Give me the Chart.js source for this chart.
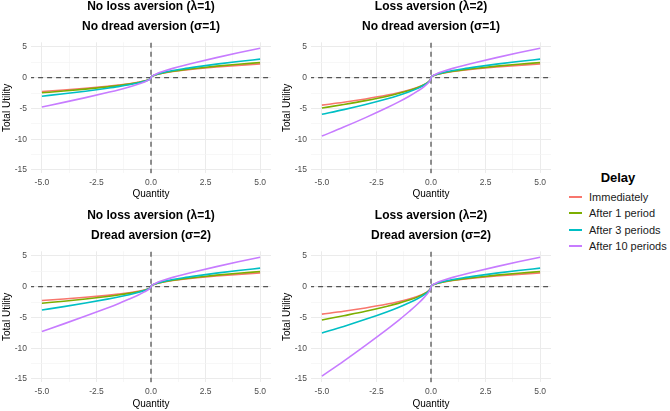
<!DOCTYPE html>
<html><head><meta charset="utf-8">
<script src="https://cdn.jsdelivr.net/npm/chart.js@4/dist/chart.umd.min.js"></script>
<style>
html,body{margin:0;padding:0;background:#fff;overflow:hidden;width:670px;height:411px;position:relative;font-family:"Liberation Sans",Arial,sans-serif;}
canvas{position:absolute;}
.lg{position:absolute;white-space:nowrap;color:#1a1a1a;}
.key{position:absolute;height:2px;}
</style></head><body>
<canvas id="c1" width="280" height="208" style="left:0;top:-3px"></canvas>
<canvas id="c2" width="280" height="208" style="left:280px;top:-3px"></canvas>
<canvas id="c3" width="280" height="209" style="left:0;top:206px"></canvas>
<canvas id="c4" width="280" height="209" style="left:280px;top:206px"></canvas>
<div id="legend"></div>
<script>
// ---- data ----
const quantity = [-5,-4,-3,-2,-1.5,-1,-0.6,-0.3,-0.1,-0.02,0,0.02,0.1,0.3,0.6,1,1.5,2,3,4,5];
const seriesNames = ["Immediately","After 1 period","After 3 periods","After 10 periods"];
const seriesColors = ["#F8766D","#7CAE00","#00BFC4","#C77CFF"];

// gains (quantity 0.02 .. 5), same in every panel
const gainImm = [0.14,0.32,0.55,0.77,1.00,1.22,1.41,1.73,2.00,2.24];
const gainP1  = [0.14,0.32,0.56,0.80,1.05,1.29,1.50,1.87,2.18,2.46];
const gainP3  = [0.14,0.33,0.59,0.87,1.16,1.46,1.72,2.20,2.62,3.01];
const gainP10 = [0.15,0.37,0.70,1.08,1.51,1.99,2.43,3.26,4.04,4.79];

// losses (quantity -5 .. -0.02)
// Panel 1: no loss aversion, no dread aversion
const loss1Imm = [-2.24,-2.00,-1.73,-1.41,-1.22,-1.00,-0.77,-0.55,-0.32,-0.14];
const loss1P1  = [-2.46,-2.18,-1.87,-1.50,-1.29,-1.05,-0.80,-0.56,-0.32,-0.14];
const loss1P3  = [-3.01,-2.62,-2.20,-1.72,-1.46,-1.16,-0.87,-0.59,-0.33,-0.14];
const loss1P10 = [-4.76,-4.02,-3.25,-2.42,-1.99,-1.51,-1.08,-0.70,-0.37,-0.15];
// Panel 2: loss aversion, no dread aversion
const loss2Imm = [-4.47,-4.00,-3.46,-2.83,-2.45,-2.00,-1.55,-1.10,-0.63,-0.28];
const loss2P1  = [-4.94,-4.36,-3.73,-3.01,-2.58,-2.09,-1.60,-1.12,-0.64,-0.28];
const loss2P3  = [-5.95,-5.20,-4.37,-3.44,-2.91,-2.31,-1.74,-1.18,-0.66,-0.29];
const loss2P10 = [-9.50,-8.04,-6.50,-4.86,-3.98,-3.02,-2.16,-1.40,-0.73,-0.30];
// Panel 3: no loss aversion, dread aversion
const loss3Imm = [-2.24,-2.00,-1.73,-1.41,-1.22,-1.00,-0.77,-0.55,-0.32,-0.14];
const loss3P1  = [-2.69,-2.36,-2.00,-1.59,-1.36,-1.09,-0.83,-0.57,-0.33,-0.14];
const loss3P3  = [-3.79,-3.24,-2.66,-2.03,-1.69,-1.31,-0.96,-0.64,-0.35,-0.15];
const loss3P10 = [-7.28,-6.05,-4.77,-3.45,-2.76,-2.02,-1.39,-0.85,-0.42,-0.16];
// Panel 4: loss aversion, dread aversion
const loss4Imm = [-4.47,-4.00,-3.46,-2.83,-2.45,-2.00,-1.55,-1.10,-0.63,-0.28];
const loss4P1  = [-5.42,-4.72,-4.00,-3.18,-2.72,-2.18,-1.66,-1.14,-0.66,-0.28];
const loss4P3  = [-7.52,-6.46,-5.31,-4.06,-3.38,-2.62,-1.92,-1.28,-0.70,-0.30];
const loss4P10 = [-14.55,-12.10,-9.54,-6.90,-5.52,-4.04,-2.78,-1.70,-0.84,-0.32];

const xTickValues = [-5,-3.75,-2.5,-1.25,0,1.25,2.5,3.75,5];
const xTickLabels = ["-5.0","","-2.5","","0.0","","2.5","","5.0"];
const yTickValues = [-15,-12.5,-10,-7.5,-5,-2.5,0,2.5,5];
const yTickLabels = ["-15","","-10","","-5","","0","","5"];

const panelTitles = [
  ["No loss aversion (\u03bb=1)","No dread aversion (\u03c3=1)"],
  ["Loss aversion (\u03bb=2)","No dread aversion (\u03c3=1)"],
  ["No loss aversion (\u03bb=1)","Dread aversion (\u03c3=2)"],
  ["Loss aversion (\u03bb=2)","Dread aversion (\u03c3=2)"]
];
const gains = [gainImm,gainP1,gainP3,gainP10];
const panelLosses = [
  [loss1Imm,loss1P1,loss1P3,loss1P10],
  [loss2Imm,loss2P1,loss2P3,loss2P10],
  [loss3Imm,loss3P1,loss3P3,loss3P10],
  [loss4Imm,loss4P1,loss4P3,loss4P10]
];

// ---- drawing ----
const FAM = '"Liberation Sans", Arial, sans-serif';
function makePanel(canvasId, titleLines, losses, xAxisH){
  const datasets = [
    {data:[{x:-6,y:0},{x:6,y:0}], borderColor:'#555555', borderWidth:1.3, borderDash:[5,4], pointRadius:0, order:10},
    {data:[{x:0,y:-20},{x:0,y:10}], borderColor:'#555555', borderWidth:1.3, borderDash:[5,4], pointRadius:0, order:10}
  ];
  seriesNames.forEach((name,i)=>{
    const ys = losses[i].concat([0], gains[i]);
    datasets.push({
      label:name,
      data: quantity.map((q,j)=>({x:q,y:ys[j]})),
      borderColor: seriesColors[i], borderWidth:1.6, pointRadius:0,
      cubicInterpolationMode:'monotone', order:4-i
    });
  });
  new Chart(document.getElementById(canvasId), {
    type:'line',
    data:{datasets},
    options:{
      responsive:false, animation:false, devicePixelRatio:1,
      layout:{padding:{left:0,right:9,top:0,bottom:0}},
      plugins:{
        legend:{display:false}, tooltip:{enabled:false},
        title:{display:true, text:titleLines, fullSize:false, color:'#000',
          font:{family:FAM, size:12, weight:'bold', lineHeight:20/12},
          padding:{top:0,bottom:5.3}}
      },
      scales:{
        x:{type:'linear', min:-5.5, max:5.5,
          afterBuildTicks:s=>{ s.ticks = xTickValues.map(v=>({value:v})); },
          afterFit:s=>{ s.height = xAxisH; },
          border:{display:false},
          grid:{drawTicks:false,
            color:c=>(c.tick && xTickLabels[xTickValues.indexOf(c.tick.value)]!=='') ? '#EBEBEB' : '#F3F3F3',
            lineWidth:c=>(c.tick && xTickLabels[xTickValues.indexOf(c.tick.value)]!=='') ? 1 : 0.7},
          ticks:{autoSkip:false, maxRotation:0, minRotation:0, padding:4, color:'#4d4d4d',
            font:{family:FAM, size:8.5},
            callback:(v)=>{ const k = xTickValues.indexOf(v); return k<0 ? '' : xTickLabels[k]; }},
          title:{display:true, text:'Quantity', color:'#000', font:{family:FAM, size:10}, padding:{top:0,bottom:4.7}}
        },
        y:{type:'linear', min:-15.55, max:5.75,
          afterBuildTicks:s=>{ s.ticks = yTickValues.map(v=>({value:v})); },
          afterFit:s=>{ s.width = 31; },
          border:{display:false},
          grid:{drawTicks:false,
            color:c=>(c.tick && yTickLabels[yTickValues.indexOf(c.tick.value)]!=='') ? '#EBEBEB' : '#F3F3F3',
            lineWidth:c=>(c.tick && yTickLabels[yTickValues.indexOf(c.tick.value)]!=='') ? 1 : 0.7},
          ticks:{autoSkip:false, padding:4, color:'#4d4d4d', font:{family:FAM, size:8.5},
            callback:(v)=>{ const k = yTickValues.indexOf(v); return k<0 ? '' : yTickLabels[k]; }},
          title:{display:true, text:'Total Utility', color:'#000', font:{family:FAM, size:10}, padding:{top:1,bottom:0}}
        }
      }
    }
  });
}
makePanel('c1', panelTitles[0], panelLosses[0], 31.7);
makePanel('c2', panelTitles[1], panelLosses[1], 31.7);
makePanel('c3', panelTitles[2], panelLosses[2], 32.7);
makePanel('c4', panelTitles[3], panelLosses[3], 32.7);

// legend
const lg = document.getElementById('legend');
const t = document.createElement('div');
t.className='lg'; t.textContent='Delay';
t.style.cssText='left:568px;width:100px;text-align:center;top:170px;font-size:13px;line-height:16px;font-weight:bold;color:#000;';
lg.appendChild(t);
seriesNames.forEach((name,i)=>{
  const cy = 196.7 + i*16.5;
  const k = document.createElement('div');
  k.className='key';
  k.style.cssText=`left:569px;width:13px;top:${cy-1}px;background:${seriesColors[i]};`;
  lg.appendChild(k);
  const l = document.createElement('div');
  l.className='lg'; l.textContent=name;
  l.style.cssText=`left:589px;top:${cy-7}px;font-size:11px;line-height:14px;`;
  lg.appendChild(l);
});
</script>
</body></html>
